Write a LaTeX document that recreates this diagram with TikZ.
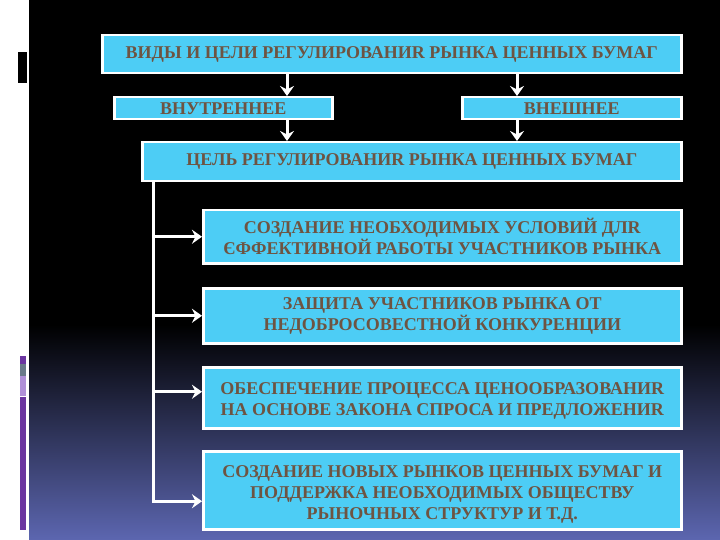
\documentclass[tikz,border=0pt]{standalone}
\usepackage{fontspec}
\setmainfont{Liberation Serif}
\usetikzlibrary{arrows.meta,calc}
\definecolor{boxblue}{HTML}{4DCDF5}
\definecolor{txtc}{HTML}{6E5442}
\definecolor{bgblue}{HTML}{5C66B0}
\definecolor{decpurple}{HTML}{6B35A0}
\definecolor{decgray}{HTML}{6A7A8A}
\definecolor{declight}{HTML}{B090D8}
\begin{document}
\begin{tikzpicture}[x=1pt,y=-1pt,
  box/.style={draw=white,line width=2.5pt,fill=boxblue,anchor=north west,inner sep=0pt,
    align=center,font=\bfseries\fontsize{18}{20.7}\selectfont,text=txtc},
  wire/.style={draw=white,line width=3pt},
  arr/.style={wire,-{Stealth[length=10pt,width=14pt,inset=3.5pt]}}]
\useasboundingbox (0,0) rectangle (720,540);
% background
\fill[white] (0,0) rectangle (29,540);
\fill[black] (29,0) rectangle (720,325);
\shade[top color=black,bottom color=bgblue] (29,324.5) rectangle (720,540);
% left decorations
\fill[black] (18,52) rectangle (27,83);
\fill[decpurple] (20,356) rectangle (26,364);
\fill[decgray] (20,364) rectangle (26,376);
\fill[declight] (20,376) rectangle (26,396);
\fill[decpurple] (20,397) rectangle (26,530);
% boxes
\node[box,minimum width=579pt,minimum height=38pt] (top) at (101,34) {ВИДЫ И ЦЕЛИ РЕГУЛИРОВАНИR РЫНКА ЦЕННЫХ БУМАГ};
\node[box,minimum width=218pt,minimum height=22pt] (inner) at (113,96) {ВНУТРЕННЕЕ};
\node[box,minimum width=219pt,minimum height=22pt] (outer) at (461,96) {ВНЕШНЕЕ};
\node[box,minimum width=539pt,minimum height=39pt] (goal) at (141,141) {ЦЕЛЬ РЕГУЛИРОВАНИR РЫНКА ЦЕННЫХ БУМАГ};
\node[box,minimum width=478pt,minimum height=53pt] (g1) at (202,209) {СОЗДАНИЕ НЕОБХОДИМЫХ УСЛОВИЙ ДЛR\\ЄФФЕКТИВНОЙ РАБОТЫ УЧАСТНИКОВ РЫНКА};
\node[box,minimum width=478pt,minimum height=55pt] (g2) at (202,287) {ЗАЩИТА УЧАСТНИКОВ РЫНКА ОТ\\НЕДОБРОСОВЕСТНОЙ КОНКУРЕНЦИИ};
\node[box,minimum width=478pt,minimum height=61pt] (g3) at (202,366) {\rule{0pt}{18.5pt}ОБЕСПЕЧЕНИЕ ПРОЦЕССА ЦЕНООБРАЗОВАНИR\\НА ОСНОВЕ ЗАКОНА СПРОСА И ПРЕДЛОЖЕНИR};
\node[box,minimum width=478pt,minimum height=78pt] (g4) at (202,450) {\rule{0pt}{20.5pt}СОЗДАНИЕ НОВЫХ РЫНКОВ ЦЕННЫХ БУМАГ И\\ПОДДЕРЖКА НЕОБХОДИМЫХ ОБЩЕСТВУ\\РЫНОЧНЫХ СТРУКТУР И Т.Д.};
% connectors
\coordinate (xl) at (287,0);
\coordinate (xr) at (517,0);
\coordinate (tr) at (153,0);
\draw[arr] (top.south -| xl) -- (inner.north -| xl);
\draw[arr] (inner.south -| xl) -- (goal.north -| xl);
\draw[arr] (top.south -| xr) -- (outer.north -| xr);
\draw[arr] (outer.south -| xr) -- (goal.north -| xr);
\coordinate (y1) at ($(g1.west)+(0,0)$);
\coordinate (y2) at ($(g2.west)+(0,0)$);
\coordinate (y3) at ($(g3.west)+(0,-6)$);
\coordinate (y4) at ($(g4.west)+(0,11)$);
\draw[arr] (goal.south -| tr) |- (y4);
\draw[arr] (tr |- y1) -- (y1);
\draw[arr] (tr |- y2) -- (y2);
\draw[arr] (tr |- y3) -- (y3);
\end{tikzpicture}
\end{document}
